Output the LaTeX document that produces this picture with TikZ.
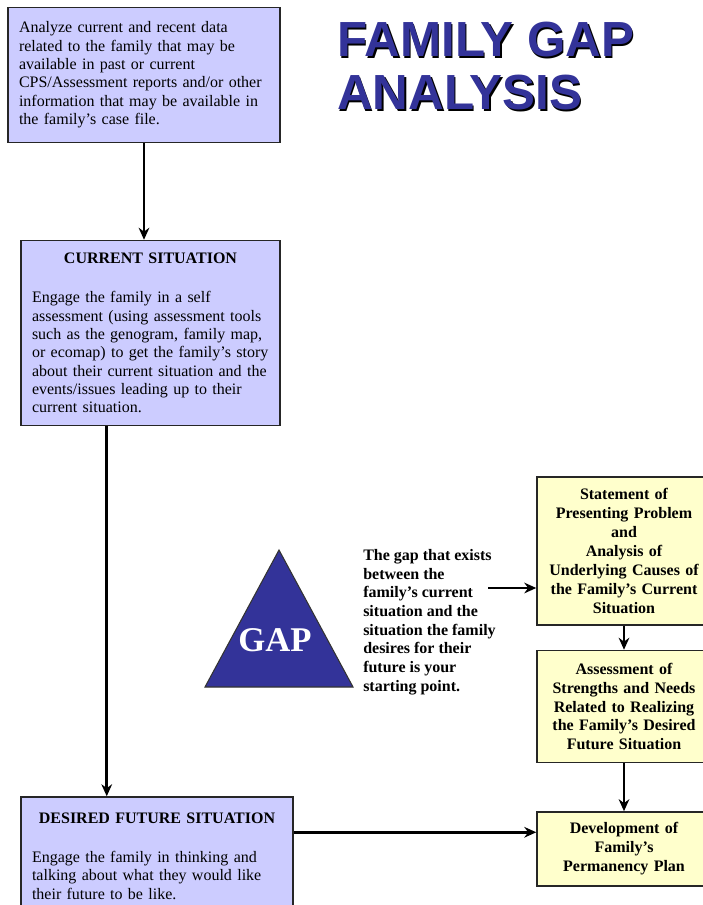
\documentclass[tikz,border=0pt]{standalone}
\usepackage{fontspec}
\setmainfont{Liberation Serif}
\newfontfamily\titlefont{Liberation Sans}
\usepackage{xcolor}
\definecolor{boxlilac}{RGB}{204,204,255}
\definecolor{boxcream}{RGB}{255,255,204}
\definecolor{gapblue}{RGB}{51,51,153}
\usetikzlibrary{arrows.meta,positioning,calc}

\begin{document}
\begin{tikzpicture}[x=0.75pt, y=-0.75pt,
    lilacbox/.style={rectangle, draw=black!85, line width=1.1pt, fill=boxlilac,
                 inner xsep=8.25pt, inner ysep=0pt, align=left,
                 font=\fontsize{12}{13.75}\selectfont},
    creambox/.style={rectangle, draw=black!85, line width=1.1pt, fill=boxcream,
                 text width=120pt, minimum width=130.5pt, inner xsep=5.25pt,
                 inner ysep=0pt, align=center,
                 font=\fontsize{12}{14.2}\selectfont\bfseries},
    headline/.style={anchor=base west, inner sep=0pt,
                 font=\titlefont\fontsize{37}{40}\selectfont\bfseries},
    arr/.style={-{Stealth[length=9pt,width=8pt]}, line width=1.9pt, black},
  ]
    \useasboundingbox (0,0) rectangle (702,905);

    % title, with its shadow
    \node[headline, text=black] at (338.5,58.5) {FAMILY GAP};
    \node[headline, text=black] at (338.5,111.5) {ANALYSIS};
    \node[headline, text=gapblue] (title1) at (337,57) {FAMILY GAP};
    \node[headline, text=gapblue] (title2) at (337,110) {ANALYSIS};

    % left column
    \node[lilacbox, text width=187.5pt, minimum height=101.25pt] (data) at (144,75)
      {Analyze current and recent data\\
       related to the family that may be\\
       available in past or current\\
       CPS/Assessment reports and/or other\\
       information that may be available in\\
       the family's case file.};
    \node[lilacbox, text width=177.75pt, minimum height=138.75pt] (cur) at (150.5,333)
      {{\centering\bfseries CURRENT SITUATION\par}\vspace{15.5pt}%
       Engage the family in a self\\
       assessment (using assessment tools\\
       such as the genogram, family map,\\
       or ecomap) to get the family's story\\
       about their current situation and the\\
       events/issues leading up to their\\
       current situation.};
    \node[lilacbox, text width=187.5pt, minimum height=88.5pt] (fut) at (157,856)
      {{\centering\bfseries DESIRED FUTURE SITUATION\par}\vspace{15.5pt}%
       Engage the family in thinking and\\
       talking about what they would like\\
       their future to be like.};

    % gap triangle
    \fill[gapblue, draw=black!80, line width=0.8pt] (279,550) -- (353,687) -- (205,687) -- cycle;
    \node[text=white, font=\fontsize{26}{28}\selectfont\bfseries] (gap) at (275,640) {GAP};
    \node[anchor=west, inner sep=0pt, align=left, font=\fontsize{12}{14}\selectfont\bfseries] (gapnote) at (363,622)
      {The gap that exists\\
       between the\\
       family's current\\
       situation and the\\
       situation the family\\
       desires for their\\
       future is your\\
       starting point.};

    % right column
    \node[creambox, minimum height=111pt] (stat) at (624,551)
      {Statement of\\Presenting Problem\\and\\Analysis of\\Underlying Causes of\\the Family's Current\\Situation};
    \node[creambox, minimum height=84pt, below=18pt of stat] (assess)
      {Assessment of\\Strengths and Needs\\Related to Realizing\\the Family's Desired\\Future Situation};
    \node[creambox, minimum height=55.5pt, below=36pt of assess] (plan)
      {Development of\\Family's\\Permanency Plan};

    % connectors
    \coordinate (curout) at ($(cur.south west)!0.332!(cur.south east)$);
    \coordinate (gapout) at (488,588);
    \coordinate (futout) at ([yshift=-27pt]fut.north east);
    \draw[arr] (data.south) -- (data.south |- cur.north);
    \draw[arr] (curout) -- (curout |- fut.north);
    \draw[arr] (gapout) -- (gapout -| stat.west);
    \draw[arr] (stat) -- (assess);
    \draw[arr] (assess) -- (plan);
    \draw[arr] (futout) -- (futout -| plan.west);
  \end{tikzpicture}
\end{document}
